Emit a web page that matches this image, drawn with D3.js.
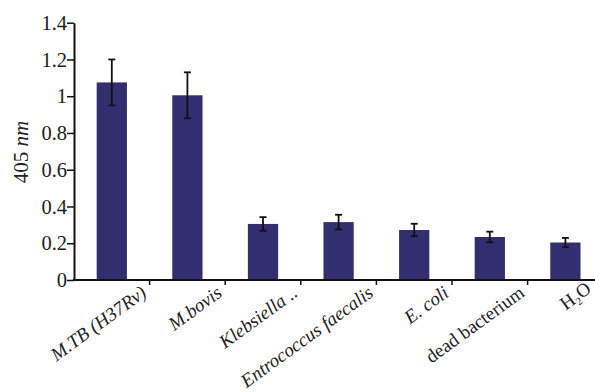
<!DOCTYPE html>
<html>
<head>
<meta charset="utf-8">
<script src="https://cdn.jsdelivr.net/npm/d3@7"></script>
<style>
  body { margin: 0; background: #fff; }
  svg { display: block; font-family: "Liberation Serif", "Times New Roman", serif; }
</style>
</head>
<body>
<div id="chart"></div>
<script>
const categories = ['M.TB (H37Rv)', 'M.bovis', 'Klebsiella ..', 'Entrococcus faecalis', 'E. coli', 'dead bacterium', 'H2O']
const italicCats = [true, true, true, true, true, false, false]
const means = [1.075, 1.005, 0.305, 0.315, 0.272, 0.234, 0.204]
const errors = [0.125, 0.125, 0.037, 0.04, 0.034, 0.029, 0.025]
const yTicks = [0, 0.2, 0.4, 0.6, 0.8, 1, 1.2, 1.4]

const w = 595
const h = 392
const plotLeft = 74
const plotTop = 22.7
const plotBottom = 280
const step = 75.6

const svg = d3.select('#chart')
  .append('svg')
  .attr('width', w)
  .attr('height', h)

const x = d3.scaleBand()
  .domain(categories)
  .range([plotLeft, plotLeft + step * categories.length])
  .paddingInner(0.6)
  .paddingOuter(0.3)

const y = d3.scaleLinear()
  .domain([0, 1.4])
  .range([plotBottom, plotTop])

// bars
svg.selectAll('rect.bar')
  .data(categories)
  .enter()
  .append('rect')
  .attr('class', 'bar')
  .attr('x', d => x(d))
  .attr('y', (d, i) => y(means[i]))
  .attr('width', x.bandwidth())
  .attr('height', (d, i) => y(0) - y(means[i]))
  .attr('fill', '#332e6f')

// error bars
const eb = svg.append('g')
categories.forEach((c, i) => {
  const cx = x(c) + x.bandwidth() / 2
  const y1 = y(means[i] + errors[i])
  const y2 = y(means[i] - errors[i])
  eb.append('line').attr('x1', cx).attr('x2', cx).attr('y1', y1).attr('y2', y2)
  eb.append('line').attr('x1', cx - 3.5).attr('x2', cx + 3.5).attr('y1', y1).attr('y2', y1)
  eb.append('line').attr('x1', cx - 3.5).attr('x2', cx + 3.5).attr('y1', y2).attr('y2', y2)
})
eb.selectAll('line').attr('stroke', '#111').attr('stroke-width', 1.8)

// y axis
const yAxis = svg.append('g')
  .attr('transform', 'translate(' + plotLeft + ',0)')
  .call(d3.axisLeft(y).tickValues(yTicks).tickSize(7).tickSizeOuter(0).tickFormat(d3.format('~g')))
yAxis.select('.domain').attr('stroke', '#111').attr('stroke-width', 2)
yAxis.selectAll('.tick line').attr('stroke', '#111').attr('stroke-width', 1.5)
yAxis.selectAll('.tick text')
  .attr('font-size', 20.5)
  .attr('font-family', '"Liberation Serif", serif')
  .attr('fill', '#222')
  .attr('x', -7)

// x axis
const xAxis = svg.append('g')
  .attr('transform', 'translate(0,' + plotBottom + ')')
svg.append('line')
  .attr('x1', plotLeft - 1).attr('x2', w)
  .attr('y1', plotBottom).attr('y2', plotBottom)
  .attr('stroke', '#111').attr('stroke-width', 2)

// category ticks between bands
d3.range(1, categories.length + 1).forEach(i => {
  const tx = plotLeft + step * i
  xAxis.append('line')
    .attr('x1', tx).attr('x2', tx)
    .attr('y1', 0).attr('y2', 5)
    .attr('stroke', '#111').attr('stroke-width', 1.5)
})

// category labels
categories.forEach((c, i) => {
  const cx = x(c) + x.bandwidth() / 2
  const last = i === categories.length - 1
  const t = xAxis.append('text')
    .attr('transform', 'translate(' + (cx + (last ? 18 : 27)) + ',' + (last ? -1 : 3) + ') rotate(-36)')
    .attr('text-anchor', 'end')
    .attr('dy', '0.8em')
    .attr('font-size', 19)
    .attr('fill', '#222')
    .attr('font-style', italicCats[i] ? 'italic' : 'normal')
  if (c === 'H2O') {
    t.append('tspan').text('H')
    t.append('tspan').text('2').attr('font-size', 11).attr('dy', 4)
    t.append('tspan').text('O').attr('dy', -4)
  } else {
    t.text(c)
  }
})

// y label
svg.append('text')
  .attr('transform', 'translate(28,152) rotate(-90)')
  .attr('text-anchor', 'middle')
  .attr('font-size', 21)
  .attr('fill', '#222')
  .call(t => {
    t.append('tspan').text('405 ')
    t.append('tspan').text('nm').attr('font-style', 'italic')
  })
</script>
</body>
</html>
